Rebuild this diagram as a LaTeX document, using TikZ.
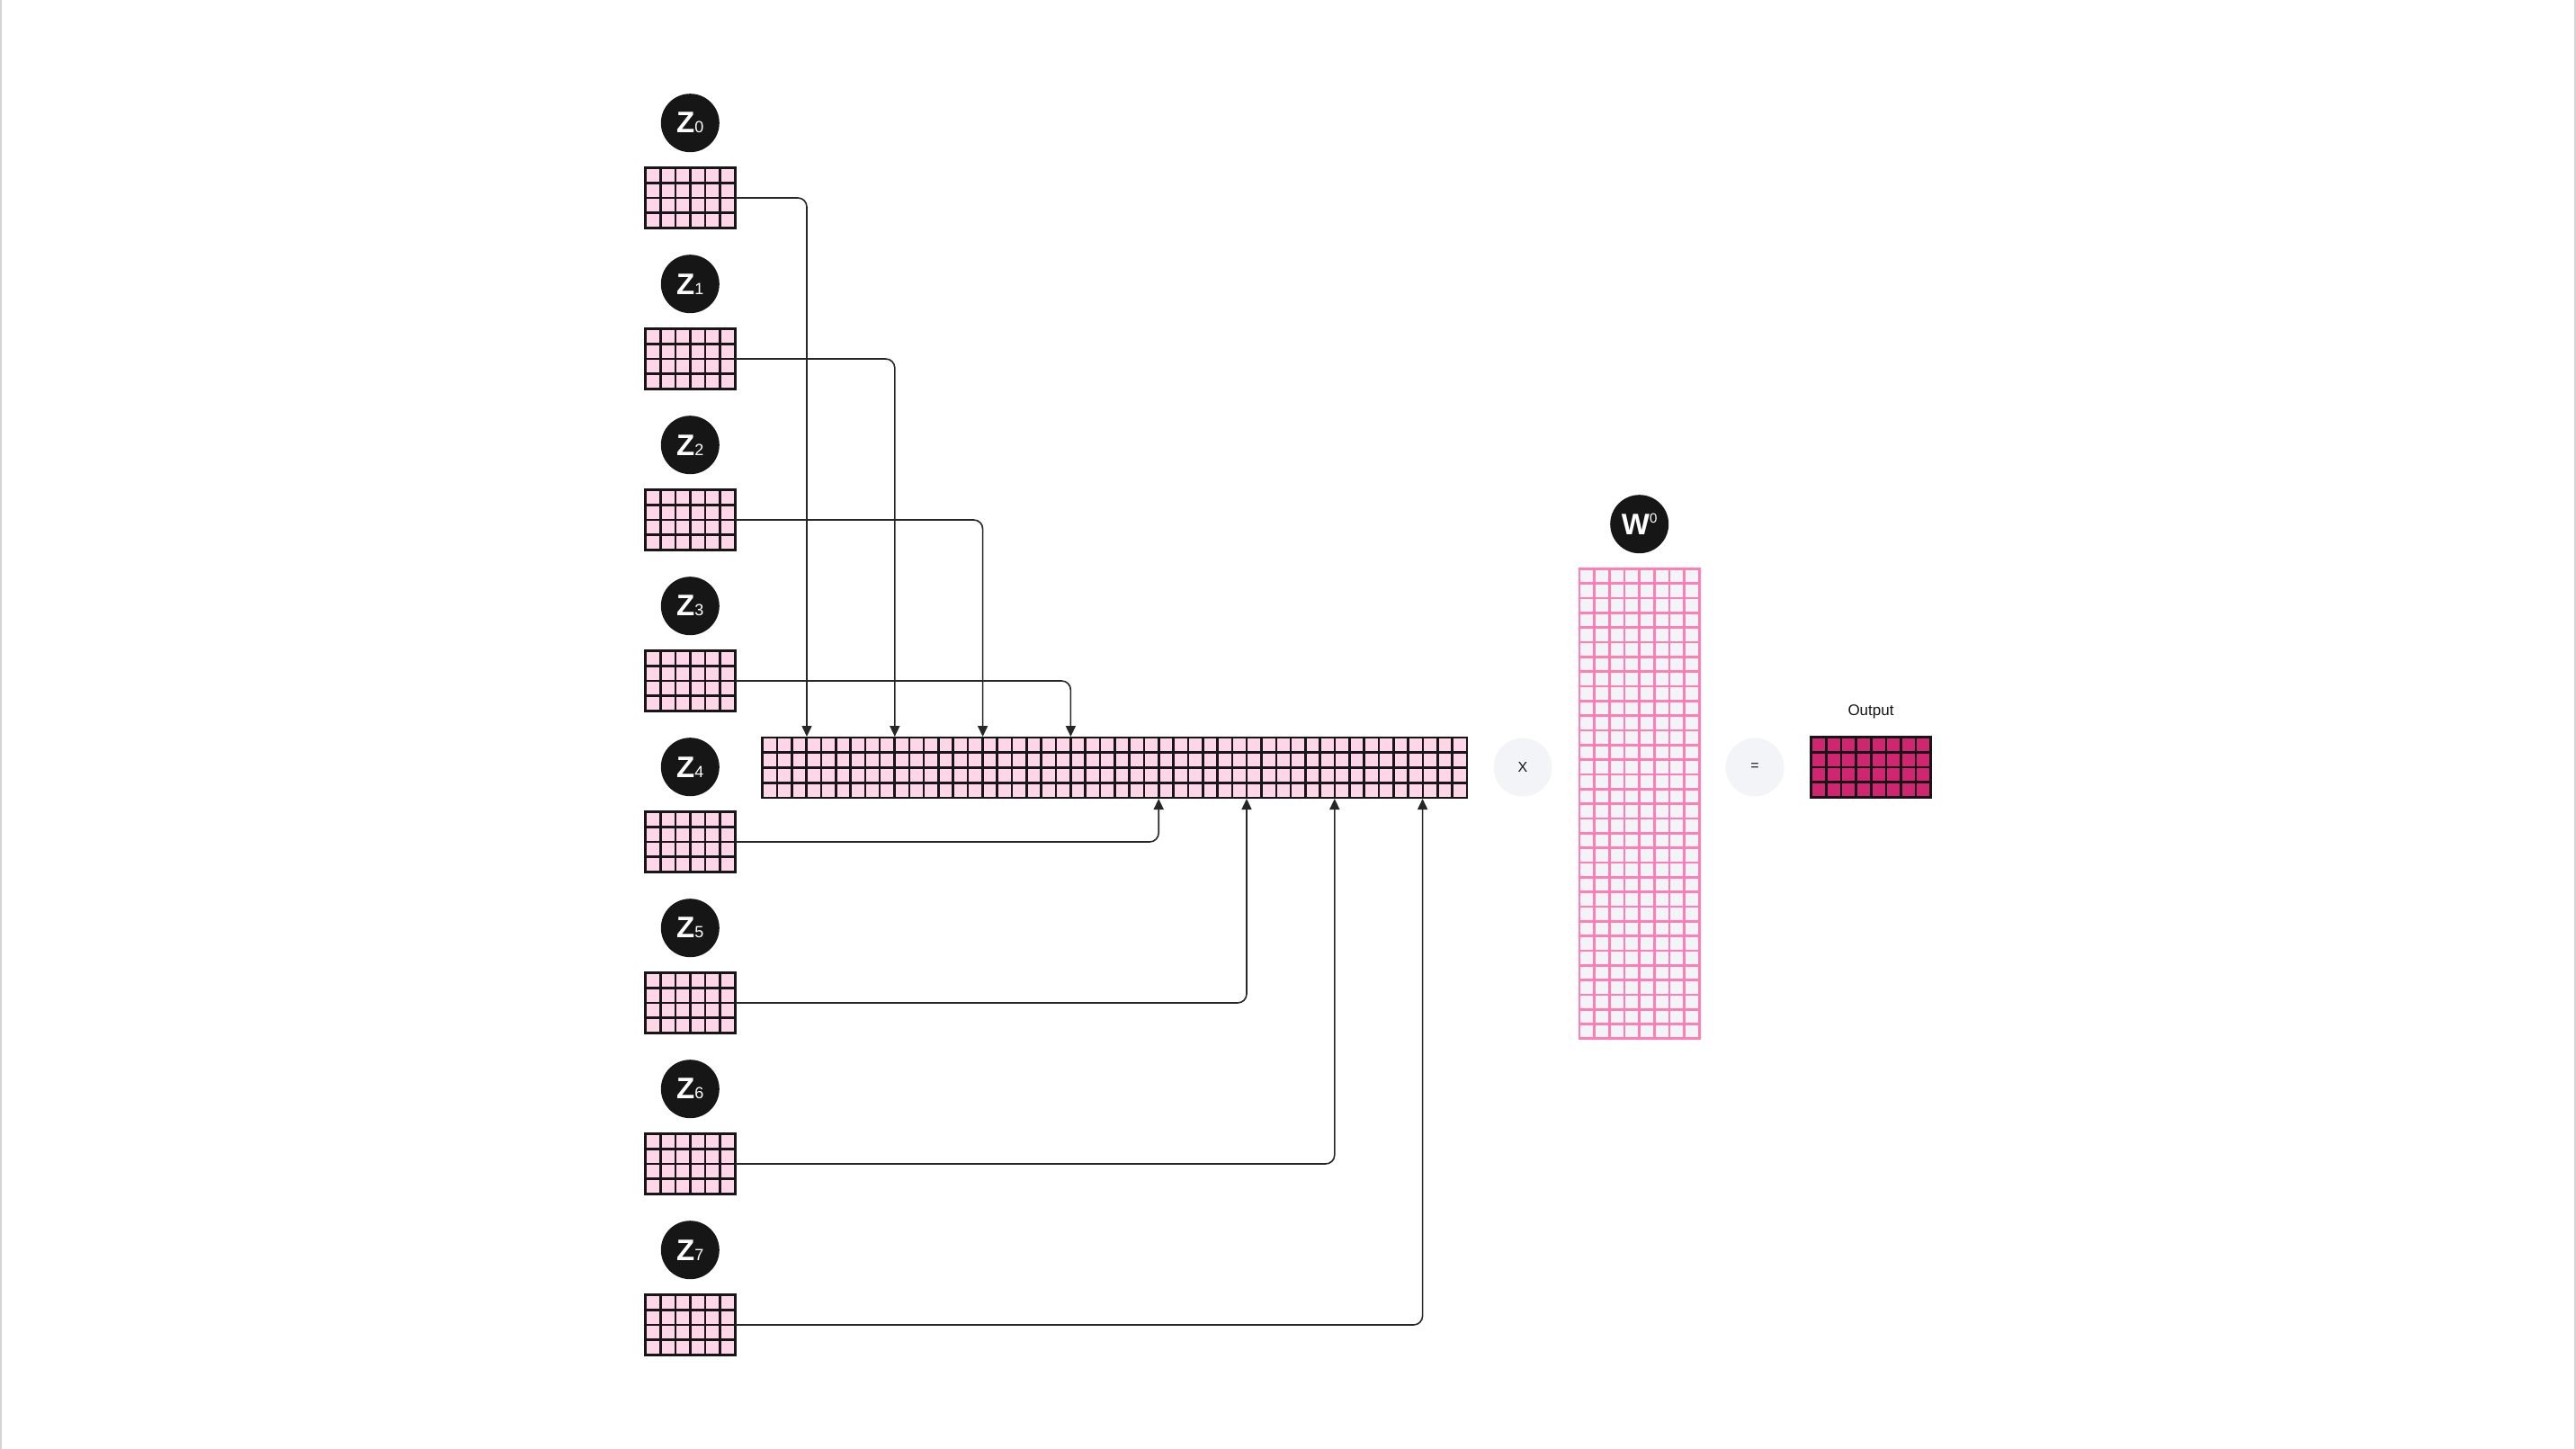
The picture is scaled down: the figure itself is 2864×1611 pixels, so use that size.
\documentclass[tikz,border=0pt]{standalone}
\usepackage{fontspec}
\setmainfont{Liberation Sans}
\usetikzlibrary{arrows.meta}
\definecolor{zpink}{HTML}{FFD6E8}
\definecolor{wpink}{HTML}{FF7EB6}
\definecolor{wfill}{HTML}{F2F4F8}
\definecolor{outmag}{HTML}{D02670}
\definecolor{ink}{HTML}{161616}
\definecolor{wire}{HTML}{262626}
\definecolor{opfill}{HTML}{F2F4F8}
\definecolor{edgegray}{HTML}{D4D4D4}
\tikzset{
  gridbox/.style={rectangle, anchor=north west, inner sep=0pt, outer sep=0pt, line width=1.4pt},
  gridline/.style={line width=1.3pt},
  zcirc/.style={circle, fill=ink, text=white, minimum size=32.5pt, inner sep=0pt},
  opcirc/.style={circle, fill=opfill, text=ink, minimum size=32.5pt, inner sep=0pt, font=\fontsize{8}{9}\selectfont},
  conn/.style={draw=wire, line width=0.8pt, rounded corners=5pt, -{Triangle[width=5.5pt,length=6pt]}},
  lbl/.style={text=ink, inner sep=0pt, font=\fontsize{8.5}{9}\selectfont},
}
\newcommand{\cellgrid}[9]{%
  \node[gridbox, draw=#9, fill=#8, minimum width={#4*#6*0.5pt}, minimum height={#5*#7*0.5pt}] (#1) at (#2,#3) {};
  \pgfmathtruncatemacro\cgcols{#4-1}%
  \pgfmathtruncatemacro\cgrows{#5-1}%
  \foreach \i in {1,...,\cgcols} {\draw[draw=#9, gridline] (#2+\i*#6,#3) -- ++(0,#5*#7);}
  \foreach \j in {1,...,\cgrows} {\draw[draw=#9, gridline] (#2,#3+\j*#7) -- ++(#4*#6,0);}
}
\newcommand{\zlab}[1]{{\fontsize{16.5}{17}\selectfont\bfseries Z}{\fontsize{9}{9}\selectfont #1}}
\begin{document}
\begin{tikzpicture}[x=0.5pt,y=-0.5pt]
\useasboundingbox (0,0) rectangle (2864,1611);
\draw[edgegray, line width=1pt] (1,0) -- (1,1611);
\draw[edgegray, line width=1pt] (2863,0) -- (2863,1611);

% input blocks Z0..Z7
\foreach \k in {0,...,7} {
  \node[zcirc] (c\k) at (767.3,136.7+179*\k) {\zlab{\k}};
  \cellgrid{z\k}{717.7}{186.7+179*\k}{6}{4}{16.6}{16.65}{zpink}{ink}
}

% concatenated bar
\cellgrid{bar}{847.6}{820}{48}{4}{16.32}{16.75}{zpink}{ink}

% connectors
\foreach \k in {0,...,3} {
  \coordinate (t\k) at (897+97.8*\k,819);
  \draw[conn] (z\k.east) -| (t\k);
}
\foreach \k in {4,...,7} {
  \coordinate (t\k) at (897+97.8*\k,888);
  \draw[conn] (z\k.east) -| (t\k);
}

% operator
\node[opcirc] (times) at (1693,853) {X};

% W^O
\node[zcirc] (wc) at (1822.7,582.7) {{\fontsize{16.5}{17}\selectfont\bfseries W}\raisebox{6.5pt}{\fontsize{7.5}{7.5}\selectfont 0}};
\cellgrid{wmat}{1756}{632.3}{8}{32}{16.66}{16.33}{wfill}{wpink}

% equals
\node[opcirc] (eq) at (1951,853) {=};

% output
\node[lbl] (outlbl) at (2080,791) {Output};
\cellgrid{out}{2013.7}{819.5}{8}{4}{16.625}{16.75}{outmag}{ink}
\end{tikzpicture}
\end{document}
